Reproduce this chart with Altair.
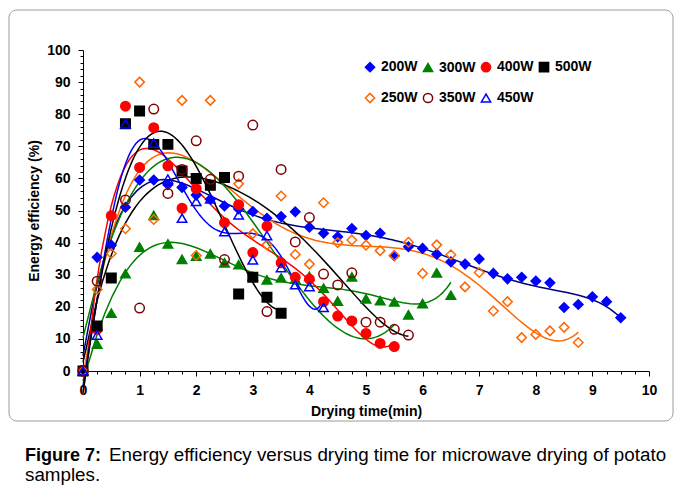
import altair as alt
import pandas as pd

# ---- data (drying time in min, energy efficiency in %) ----
times = [0, 0.25, 0.5, 0.75, 1, 1.25, 1.5, 1.75, 2, 2.25, 2.5, 2.75, 3, 3.25, 3.5,
         3.75, 4, 4.25, 4.5, 4.75, 5, 5.25, 5.5, 5.75, 6, 6.25, 6.5, 6.75, 7, 7.25,
         7.5, 7.75, 8, 8.25, 8.5, 8.75, 9, 9.25, 9.5]

e200 = [0, 35.4, 39.2, 51, 59.5, 59.5, 58, 57.2, 54.8, 53.5, 51.4, 50.5, 49.7, 47.6,
        48.1, 49.6, 44.8, 42.9, 41.8, 44.4, 42.2, 42.9, 35.9, 38.7, 38.2, 36.4, 34,
        33.3, 34.9, 30.4, 28.7, 29.2, 28, 27.5, 19.8, 20.7, 23.1, 21.6, 16.6]
e300 = [0, 8.4, 18, 30.3, 38.6, 48.5, 39.6, 34.8, 35.8, 36.5, 33.7, 33.1, 29.5, 28.4,
        29, 28.6, 29.5, 25.8, 21.8, 29.3, 22.5, 21.9, 21.5, 17.5, 21, 30.6, 23.6]
e400 = [0, 13, 48.4, 82.5, 63.4, 75.8, 63.9, 50.7, 56.8, None, 46.2, 51.8, 36.9, 45.1,
        33.7, 29.2, 28.6, 21.6, 17.1, 15.6, 11.7, 8.6, 7.6]
e500 = [0, 14, 29, 77, 81, 70.6, 70.6, 62.3, 60, 57.9, 60.3, 24, 29.2, 23, 18]
e250 = [0, 25.4, 36.6, 44.3, 90, 47.2, None, 84.3, 36, 84.3, None, 58.3, 42.8, 39.3,
        54.5, 36.3, 33.3, 52.4, 40, 40.8, 39.2, 37.5, 36, 40.1, 30.4, 39.3, 36.2, 26.2,
        30.7, 18.7, 21.6, 10.4, 11.4, 12.5, 13.6, 8.9]
e350 = [0, 28, None, 53.3, 19.6, 81.6, 55.3, 62.8, 71.7, 59.7, 34.7, 60.7, 76.6, 18.5,
        62.8, 40.2, 47.8, 30.2, 26.8, 30.6, 15.2, 15.2, 13, 11.2]
e450 = [0, 11.2, None, 77, None, 71, 59.8, 47.6, 52.8, 53.6, 43.4, 48.6, 34.6, 42.2,
        32.2, 26.9, 26.3, 19.8]

series_names = ["200W", "300W", "400W", "500W", "250W", "350W", "450W"]
series_values = [e200, e300, e400, e500, e250, e350, e450]
marker_shapes = ["diamond", "triangle-up", "circle", "square", "diamond", "circle", "triangle-up"]
marker_strokes = ["#0000FF", "#008000", "#FF0000", "#000000", "#FF6600", "#800000", "#0000FF"]
marker_fills = ["#0000FF", "#008000", "#FF0000", "#000000", "transparent", "transparent", "transparent"]

# trend lines: (series, colour, polynomial order)
trend_series = ["200W", "250W", "300W", "350W", "400W", "400W", "450W", "500W"]
trend_colors = ["#000080", "#FF6600", "#008000", "#000000", "#FF0000", "#008000", "#0000FF", "#000000"]
trend_orders = [6, 6, 6, 5, 6, 3, 6, 4]

x_tick_values = [i / 4 for i in range(41)]
y_tick_values = [i * 2 for i in range(51)]

rows = []
for name, vals in zip(series_names, series_values):
    for t, v in zip(times, vals):
        if v is not None:
            rows.append({"series": name, "time": t, "eff": v})
df = pd.DataFrame(rows)

FONT = "Liberation Sans"
W, H = 566, 321

x_scale = alt.Scale(domain=[0, 10], nice=False, zero=False)
y_scale = alt.Scale(domain=[0, 100], nice=False, zero=False)

x_axis = alt.Axis(
    values=x_tick_values,
    labelExpr="datum.value % 1 === 0 ? format(datum.value, 'd') : ''",
    tickSize={"condition": {"test": "datum.value % 1 === 0", "value": 5}, "value": 3},
    labelOverlap=False, labelFlush=False, labelPadding=7, title="Drying time(min)",
    titlePadding=7, orient="bottom",
)
y_axis = alt.Axis(
    values=y_tick_values,
    labelExpr="datum.value % 10 === 0 ? format(datum.value, 'd') : ''",
    tickSize={"condition": {"test": "datum.value % 10 === 0", "value": 5}, "value": 3},
    labelOverlap=False, labelFlush=False, labelPadding=8, title="Energy efficiency (%)",
    titlePadding=5, orient="left",
)

legend = alt.Legend(
    title=None, orient="none", legendX=280, legendY=10, columns=4, direction="horizontal",
    symbolSize=85, symbolStrokeWidth=1.5, labelFont=FONT, labelFontSize=14,
    labelFontWeight="bold", labelColor="#000000", columnPadding=2, rowPadding=15,
    labelOffset=4,
)

lines = []
for name, col, order in zip(trend_series, trend_colors, trend_orders):
    lines.append(
        alt.Chart(df)
        .transform_filter(alt.datum.series == name)
        .transform_regression("time", "eff", method="poly", order=order)
        .mark_line(color=col, strokeWidth=1.5)
        .encode(x=alt.X("time:Q", scale=x_scale, axis=x_axis),
                y=alt.Y("eff:Q", scale=y_scale, axis=y_axis))
    )

points = alt.Chart(df).mark_point(filled=True, size=90, strokeWidth=1.5, opacity=1).encode(
    x=alt.X("time:Q", scale=x_scale, axis=x_axis),
    y=alt.Y("eff:Q", scale=y_scale, axis=y_axis),
    shape=alt.Shape("series:N", scale=alt.Scale(domain=series_names, range=marker_shapes), legend=legend),
    fill=alt.Fill("series:N", scale=alt.Scale(domain=series_names, range=marker_fills), legend=legend),
    stroke=alt.Stroke("series:N", scale=alt.Scale(domain=series_names, range=marker_strokes), legend=legend),
)

one = pd.DataFrame({"k": [0]})
frame = alt.Chart(one).mark_rect(fill="transparent", stroke="#9A9A9A", strokeWidth=1, cornerRadius=8).encode(
    x=alt.value(-74), x2=alt.value(590), y=alt.value(-40), y2=alt.value(371)
)

cap_bold = alt.Chart(one).mark_text(text="Figure 7:", font=FONT, fontSize=18, fontWeight="bold",
                                    align="left", baseline="alphabetic", color="#000000").encode(
    x=alt.value(-58), y=alt.value(411))
cap_rest = alt.Chart(one).mark_text(
    text="Energy efficiency versus drying time for microwave drying of potato", font=FONT,
    fontSize=18.8, align="left", baseline="alphabetic", color="#000000").encode(
    x=alt.value(26), y=alt.value(411))
cap_line2 = alt.Chart(one).mark_text(text="samples.", font=FONT, fontSize=18.8, align="left",
                                     baseline="alphabetic", color="#000000").encode(
    x=alt.value(-58), y=alt.value(431))

chart = alt.layer(*lines, points, frame, cap_bold, cap_rest, cap_line2).properties(
    width=W, height=H,
    autosize=alt.AutoSizeParams(type="none"),
    padding={"left": 83, "top": 50, "right": 681 - 83 - W, "bottom": 500 - 50 - H},
    background="white",
).configure_view(stroke=None).configure_axis(
    labelFont=FONT, labelFontSize=14, labelFontWeight="bold", labelColor="#000000",
    titleFont=FONT, titleFontSize=14, titleFontWeight="bold", titleColor="#000000",
    domainColor="#000000", tickColor="#000000", domainWidth=1, tickWidth=1, grid=False,
)

chart.save("out.html", embed_options={"renderer": "svg", "actions": False})
